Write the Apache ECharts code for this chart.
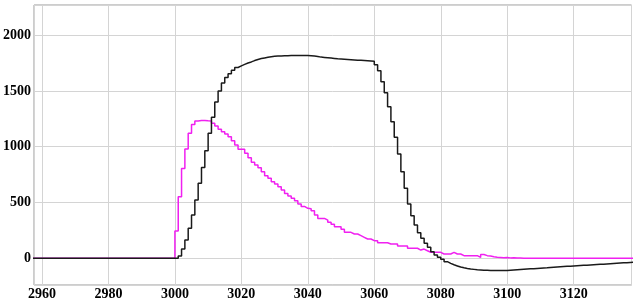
<!DOCTYPE html>
<html>
<head>
<meta charset="utf-8">
<script src="https://cdn.jsdelivr.net/npm/echarts@6/dist/echarts.min.js"></script>
<style>
html,body{margin:0;padding:0;background:#fff;}
#chart{width:637px;height:301px;}
</style>
</head>
<body>
<div id="chart"></div>
<script>
// x positions before the pulse (flat baseline)
const baselineX = [2950, 2999];
const baselineValue = 0;
// first x of the value arrays; one value per unit step
const xStart = 3000;

// magenta series, x = 3000 .. 3138
const magentaValues = [
  245, 552, 806, 980, 1120, 1200, 1230, 1235, 1235, 1232,
  1230, 1210, 1185, 1156, 1134, 1114, 1090, 1054, 1015, 977,
  977, 941, 901, 860, 836, 812, 776, 740, 717, 686,
  666, 642, 612, 582, 558, 538, 516, 487, 465, 448,
  445, 427, 388, 358, 358, 343, 323, 305, 283, 283,
  260, 233, 233, 218, 218, 203, 188, 173, 173, 158,
  158, 140, 140, 140, 128, 128, 128, 110, 110, 110,
  90, 90, 90, 74, 83, 68, 54, 54, 54, 54,
  39, 39, 39, 54, 39, 39, 24, 24, 24, 24,
  24, 8, 34, 24, 20, 14, 10, 8, 6, 8,
  4, 6, 4, 2, 0, 0, 0, 0, 0, 0,
  0, 0, 0, 0, 0, 0, 0, 0, 0, 0,
  0, 0, 0, 0, 0, 0, 0, 0, 0, 0,
  0, 0, 0, 0, 0, 0, 0, 0, 0
];

// black series, x = 3000 .. 3138
const blackValues = [
  0, 20, 83, 164, 269, 388, 522, 672, 815, 964,
  1120, 1265, 1400, 1500, 1570, 1620, 1655, 1685, 1710, 1725,
  1738, 1750, 1760, 1772, 1782, 1790, 1796, 1802, 1806, 1810,
  1812, 1814, 1815, 1816, 1817, 1818, 1818, 1818, 1818, 1817,
  1815, 1812, 1808, 1803, 1800, 1797, 1794, 1791, 1788, 1786,
  1784, 1782, 1780, 1778, 1776, 1774, 1772, 1770, 1768, 1766,
  1735, 1681, 1582, 1484, 1359, 1224, 1084, 935, 776, 627,
  487, 382, 298, 229, 179, 134, 99, 59, 30, 10,
  -9, -30, -45, -58, -68, -78, -85, -91, -96, -99,
  -102, -104, -106, -107, -108, -109, -110, -110, -109, -108,
  -106, -104, -102, -100, -98, -96, -94, -93, -91, -89,
  -87, -85, -82, -80, -78, -76, -74, -72, -70, -68,
  -66, -64, -62, -61, -59, -57, -55, -53, -52, -50,
  -48, -46, -44, -42, -40, -39, -37, -35, -33
];

const xTickStep = 20;
const yTickStep = 500;

function toPairs(values) {
  const pts = baselineX.map(x => [x, baselineValue]);
  values.forEach((v, i) => pts.push([xStart + i, v]));
  return pts;
}

const labelFont = {
  color: '#000',
  fontFamily: 'Liberation Serif',
  fontWeight: 'bold',
  fontSize: 14
};

const chart = echarts.init(document.getElementById('chart'), null, {renderer: 'canvas'});
chart.setOption({
  animation: false,
  backgroundColor: '#fff',
  grid: {
    left: 32, right: 5.5, top: 5, bottom: 16,
    show: true, borderColor: '#9a9a9a', borderWidth: 1,
    containLabel: false
  },
  xAxis: {
    type: 'value',
    min: 2957.6, max: 3137.4,
    splitNumber: 9,
    axisLine: {show: false},
    axisTick: {show: false},
    axisLabel: Object.assign({
      margin: 2,
      showMinLabel: false, showMaxLabel: false,
      formatter: v => (Math.abs(v % xTickStep) < 1e-6 ? String(v) : '')
    }, labelFont),
    splitLine: {show: true, lineStyle: {color: '#d4d4d4', width: 1}}
  },
  yAxis: {
    type: 'value',
    min: -239, max: 2270,
    splitNumber: 5,
    axisLine: {show: false},
    axisTick: {show: false},
    axisLabel: Object.assign({
      margin: 3,
      showMinLabel: false, showMaxLabel: false,
      formatter: v => (Math.abs(v % yTickStep) < 1e-6 ? String(v) : '')
    }, labelFont),
    splitLine: {show: true, lineStyle: {color: '#d4d4d4', width: 1}}
  },
  series: [
    {
      type: 'line', step: 'end', showSymbol: false, symbol: 'none',
      data: toPairs(magentaValues),
      lineStyle: {color: '#f020f0', width: 1.5},
      z: 2
    },
    {
      type: 'line', step: 'end', showSymbol: false, symbol: 'none',
      data: toPairs(blackValues),
      lineStyle: {color: '#1a1a1a', width: 1.5},
      z: 3
    }
  ]
});
</script>
</body>
</html>
